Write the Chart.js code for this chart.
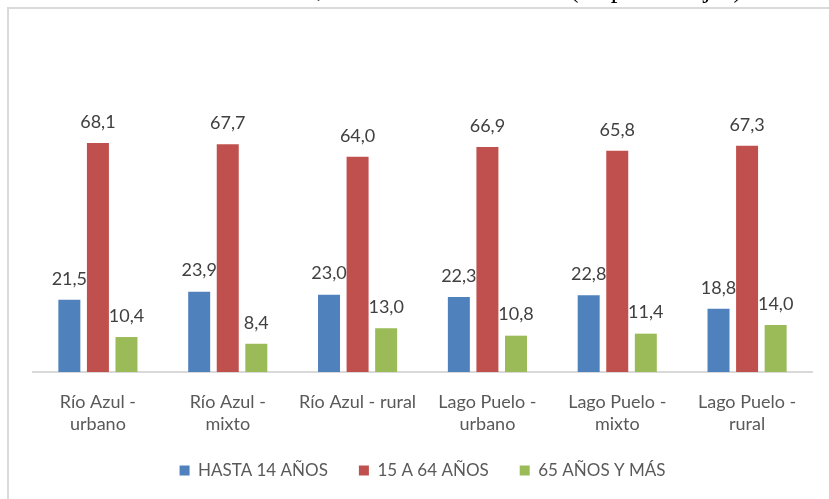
<!DOCTYPE html>
<html>
<head>
<meta charset="utf-8">
<script src="https://cdn.jsdelivr.net/npm/chart.js@4/dist/chart.umd.min.js"></script>
<style>
  html, body { margin: 0; padding: 0; background: #fff; overflow: hidden; }
  #wrap { position: relative; width: 829px; height: 499px; overflow: hidden; }
  #titulo { position: absolute; left: 154px; top: -25px; font: 27px/27px "Liberation Serif", serif; color: #000; white-space: nowrap; will-change: transform; }
  .linea { position: absolute; background: #dadada; }
  canvas { position: absolute; left: 0; top: 0; }
</style>
</head>
<body>
<div id="wrap">
  <div id="titulo">Población total, Censo Nacional 2010 (en porcentajes)</div>
  <div class="linea" style="left:7px; top:7px; width:822px; height:2px;"></div>
  <div class="linea" style="left:7px; top:7px; width:2px; height:492px;"></div>
  <canvas id="grafico" width="829" height="499"></canvas>
</div>
<script>
const categorias = [
  ['Río Azul -', 'urbano'],
  ['Río Azul -', 'mixto'],
  'Río Azul - rural',
  ['Lago Puelo -', 'urbano'],
  ['Lago Puelo -', 'mixto'],
  ['Lago Puelo -', 'rural']
];
const hasta14 = [21.5, 23.9, 23.0, 22.3, 22.8, 18.8];
const de15a64 = [68.1, 67.7, 64.0, 66.9, 65.8, 67.3];
const mas65 = [10.4, 8.4, 13.0, 10.8, 11.4, 14.0];

// etiquetas de valor encima de cada barra
const etiquetas = {
  id: 'etiquetas',
  afterDatasetsDraw(chart) {
    const ctx = chart.ctx;
    ctx.save();
    ctx.font = '18px Lato';
    ctx.fillStyle = '#404040';
    ctx.textAlign = 'center';
    ctx.textBaseline = 'middle';
    chart.data.datasets.forEach((ds, i) => {
      chart.getDatasetMeta(i).data.forEach((barra, j) => {
        ctx.fillText(ds.data[j].toFixed(1).replace('.', ','), barra.x, barra.y - 21);
      });
    });
    ctx.restore();
  }
};

new Chart(document.getElementById('grafico').getContext('2d'), {
  type: 'bar',
  data: {
    labels: categorias,
    datasets: [
      { label: 'HASTA 14 AÑOS', data: hasta14, backgroundColor: '#4F81BD' },
      { label: '15 A 64 AÑOS', data: de15a64, backgroundColor: '#C0504D' },
      { label: '65 AÑOS Y MÁS', data: mas65, backgroundColor: '#9BBB59' }
    ]
  },
  options: {
    responsive: false,
    animation: false,
    categoryPercentage: 0.66,
    barPercentage: 0.77,
    layout: { padding: { left: 33, right: 17, top: 103, bottom: 10 } },
    plugins: {
      legend: {
        position: 'bottom',
        labels: {
          color: '#595959',
          font: { family: 'Lato', size: 17 },
          boxWidth: 10,
          boxHeight: 10,
          padding: 31
        }
      },
      tooltip: { enabled: false }
    },
    scales: {
      x: {
        grid: { display: false, drawTicks: false },
        border: { color: '#d9d9d9', width: 2 },
        ticks: {
          color: '#595959',
          font: { family: 'Lato', size: 18, lineHeight: 1.22 },
          padding: 19,
          maxRotation: 0,
          autoSkip: false
        },
        afterFit(scale) { scale.height = 59; }
      },
      y: {
        display: false,
        min: 0,
        max: 80
      }
    }
  },
  plugins: [etiquetas]
});
</script>
</body>
</html>
